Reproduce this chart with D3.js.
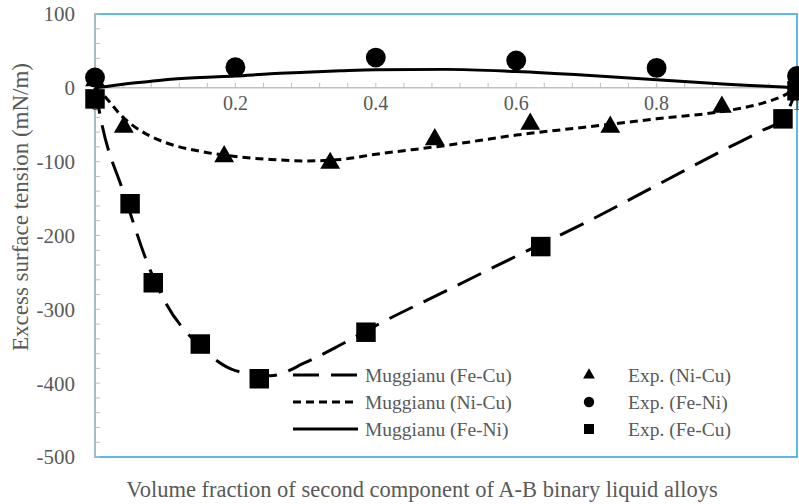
<!DOCTYPE html>
<html>
<head>
<meta charset="utf-8">
<script src="https://cdn.jsdelivr.net/npm/d3@7"></script>
<style>
  body { margin: 0; background: #fff; }
</style>
</head>
<body>
<div id="container"></div>
<script>
// data
const feCuX = [0, 0.05, 0.083, 0.15, 0.234, 0.386, 0.635, 0.98, 1];
const feCuY = [-15, -157, -264, -347, -394, -331, -215, -42, -4];
const niCuX = [0, 0.041, 0.184, 0.335, 0.484, 0.62, 0.734, 0.893, 1];
const niCuY = [10, -53, -93, -102, -70, -49, -53, -26, 2];
const feNiX = [0, 0.2, 0.4, 0.6, 0.8, 1];
const feNiY = [14, 28, 41, 37, 27, 16];

// model curves (Muggianu)
const modelX    = [0, 0.01, 0.04, 0.08, 0.1, 0.15, 0.2, 0.25, 0.3, 0.35, 0.4, 0.5, 0.6, 0.7, 0.8, 0.9, 0.95, 0.98, 1];
const modFeCu   = [0, -50, -140, -250, -290, -350, -383, -390, -372, -348, -322, -275, -228, -182, -132, -82, -58, -42, 0];
const modNiCu   = [0, -8, -40, -66, -74, -86, -93, -97, -99, -97, -90, -78, -64, -53, -42, -31, -21, -11, 0];
const modFeNi   = [0, 1, 5, 9, 11, 14, 16, 19, 21, 23, 24.5, 25, 22, 17, 11, 5, 2.5, 1, 0];

const xTicks = [0, 0.2, 0.4, 0.6, 0.8, 1];
const yTicks = [100, 0, -100, -200, -300, -400, -500];

const width = 799, height = 504;
const margin = { top: 14, right: 2, bottom: 47, left: 95 };
const FONT = '"Liberation Serif"';
const GREY = "#595959";

const svg = d3.select("#container").append("svg")
  .attr("width", width).attr("height", height);

const x = d3.scaleLinear().domain([0, 1]).range([margin.left, width - margin.right]);
const y = d3.scaleLinear().domain([-500, 100]).range([height - margin.bottom, margin.top]);

// plot area border
svg.append("rect")
  .attr("x", x(0)).attr("y", y(100))
  .attr("width", x(1) - x(0)).attr("height", y(-500) - y(100))
  .attr("fill", "none").attr("stroke", "#29a3dd").attr("stroke-width", 1.5);

// y axis
svg.append("line")
  .attr("x1", x(0)).attr("x2", x(0)).attr("y1", y(100)).attr("y2", y(-500))
  .attr("stroke", "#bfbfbf").attr("stroke-width", 1.5);
svg.append("g").selectAll("line")
  .data(d3.range(-500, 101, 20))
  .join("line")
  .attr("x1", x(0)).attr("x2", x(0) + 5)
  .attr("y1", d => y(d)).attr("y2", d => y(d))
  .attr("stroke", "#bfbfbf").attr("stroke-width", 1);
svg.append("g").selectAll("text")
  .data(yTicks)
  .join("text")
  .attr("x", 75).attr("y", d => y(d))
  .attr("dy", "0.35em")
  .attr("text-anchor", "end")
  .attr("font-family", FONT)
  .attr("fill", GREY)
  .attr("font-size", 21)
  .text(d => d);

// x axis at y = 0
svg.append("line")
  .attr("x1", x(0)).attr("x2", x(1)).attr("y1", y(0)).attr("y2", y(0))
  .attr("stroke", "#bfbfbf").attr("stroke-width", 1.5);
svg.append("g").selectAll("line")
  .data(d3.range(0, 1.001, 0.04))
  .join("line")
  .attr("x1", d => x(d)).attr("x2", d => x(d))
  .attr("y1", y(0) - 5).attr("y2", y(0))
  .attr("stroke", "#bfbfbf").attr("stroke-width", 1);
svg.append("g").selectAll("text")
  .data(xTicks)
  .join("text")
  .attr("x", d => x(d)).attr("y", y(0) + 15)
  .attr("dy", "0.35em")
  .attr("text-anchor", "middle")
  .attr("font-family", FONT)
  .attr("fill", GREY)
  .attr("font-size", 20)
  .text(d => d);

// axis titles
svg.append("text")
  .attr("transform", "translate(20,207) rotate(-90)")
  .attr("text-anchor", "middle").attr("dy", "0.35em")
  .attr("font-family", FONT)
  .attr("fill", GREY)
  .attr("font-size", 23)
  .text("Excess surface tension (mN/m)");
svg.append("text")
  .attr("x", 422).attr("y", 497)
  .attr("text-anchor", "middle")
  .attr("font-family", FONT)
  .attr("fill", GREY)
  .attr("font-size", 22.5)
  .text("Volume fraction of second component of A-B binary liquid alloys");

// model lines
const line = d3.line()
  .x(d => x(d[0])).y(d => y(d[1]))
  .curve(d3.curveMonotoneX);

const styles = {
  feCu: "26,12",
  niCu: "8,5",
  feNi: null
};

function drawLine(vals, dash) {
  svg.append("path")
    .datum(d3.zip(modelX, vals))
    .attr("d", line)
    .attr("fill", "none")
    .attr("stroke", "#000")
    .attr("stroke-width", 3)
    .attr("stroke-dasharray", dash);
}
drawLine(modFeNi, styles.feNi);
drawLine(modNiCu, styles.niCu);
drawLine(modFeCu, styles.feCu);

// markers
const tri = d3.symbol().type(d3.symbolTriangle).size(170);
const circ = d3.symbol().type(d3.symbolCircle).size(310);
const sq = d3.symbol().type(d3.symbolSquare).size(380);

svg.append("g").selectAll("path")
  .data(d3.zip(feCuX, feCuY))
  .join("path")
  .attr("d", sq)
  .attr("transform", d => `translate(${x(d[0])},${y(d[1])})`);
svg.append("g").selectAll("path")
  .data(d3.zip(niCuX, niCuY))
  .join("path")
  .attr("d", tri)
  .attr("transform", d => `translate(${x(d[0])},${y(d[1])})`);
svg.append("g").selectAll("path")
  .data(d3.zip(feNiX, feNiY))
  .join("path")
  .attr("d", circ)
  .attr("transform", d => `translate(${x(d[0])},${y(d[1])})`);

// legend
const legLines = [
  { label: "Muggianu (Fe-Cu)", dash: styles.feCu },
  { label: "Muggianu (Ni-Cu)", dash: styles.niCu },
  { label: "Muggianu (Fe-Ni)", dash: null }
];
const legMarks = [
  { label: "Exp. (Ni-Cu)", sym: d3.symbol().type(d3.symbolTriangle).size(60) },
  { label: "Exp. (Fe-Ni)", sym: d3.symbol().type(d3.symbolCircle).size(85) },
  { label: "Exp. (Fe-Cu)", sym: d3.symbol().type(d3.symbolSquare).size(100) }
];
const rowY = [375, 402, 429];

legLines.forEach((d, i) => {
  svg.append("line")
    .attr("x1", 293).attr("x2", 358).attr("y1", rowY[i]).attr("y2", rowY[i])
    .attr("stroke", "#000").attr("stroke-width", 3)
    .attr("stroke-dasharray", d.dash);
  svg.append("text")
    .attr("x", 365).attr("y", rowY[i]).attr("dy", "0.35em")
    .attr("font-family", FONT)
    .attr("fill", GREY)
    .attr("font-size", 19.5)
    .text(d.label);
});
legMarks.forEach((d, i) => {
  svg.append("path")
    .attr("d", d.sym)
    .attr("transform", `translate(589,${rowY[i]})`);
  svg.append("text")
    .attr("x", 628).attr("y", rowY[i]).attr("dy", "0.35em")
    .attr("font-family", FONT)
    .attr("fill", GREY)
    .attr("font-size", 19.5)
    .text(d.label);
});
</script>
</body>
</html>
